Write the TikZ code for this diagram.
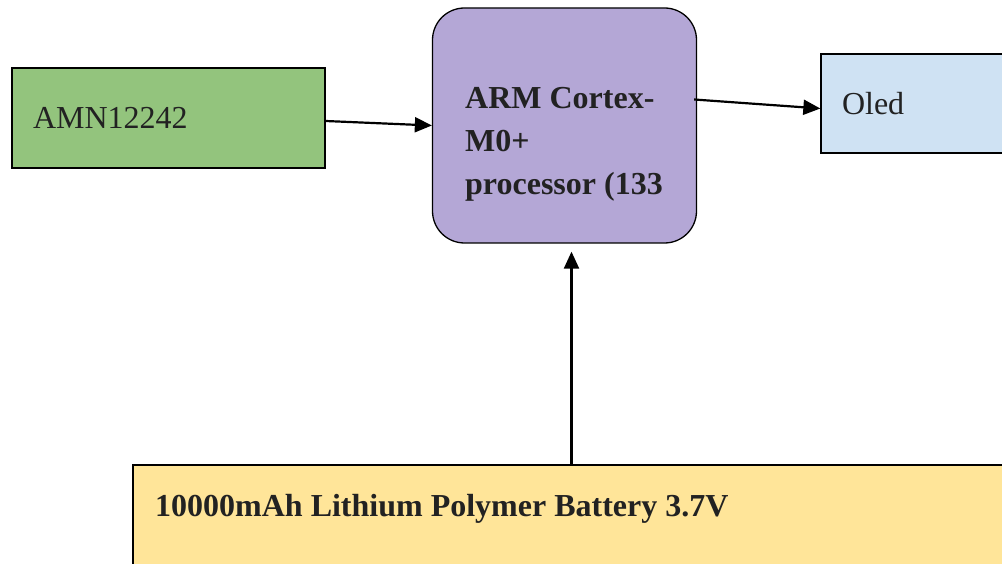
\documentclass[tikz,border=0pt]{standalone}
\usepackage{fontspec}
\setmainfont{Liberation Serif}
\usepackage{tikz}
\usetikzlibrary{arrows.meta,calc}
\usepackage{xcolor}
\definecolor{sensgreen}{RGB}{147,196,125}
\definecolor{cpupurple}{RGB}{180,167,214}
\definecolor{oledblue}{RGB}{207,226,243}
\definecolor{batyellow}{RGB}{255,229,153}
\definecolor{inkgray}{RGB}{34,34,34}

\begin{document}
\begin{tikzpicture}[
  x=1pt, y=-1pt,
  box/.style ={draw=black, line width=1.3pt, inner xsep=21pt, inner ysep=0pt,
               align=left, text=inkgray,
               font=\fontsize{32}{42}\selectfont},
  cpu/.style ={draw=black, line width=1.3pt, rounded corners=32pt,
               fill=cpupurple, minimum width=264, minimum height=235},
  txt/.style ={inner sep=0pt, align=left, text=inkgray,
               font=\fontsize{32}{43}\selectfont\bfseries},
  arr/.style ={-{Triangle[length=17pt,width=15pt]}, line width=2.2pt}
]
  \clip (0,0) rectangle (1002,564);

  %% ── Blocks ──────────────────────────────────────────────────────────────
  \node[box, fill=sensgreen, text width=271, minimum height=100]
    (amn)  at (168.5, 118)   {AMN12242};
  \node[cpu] (arm)  at (564.5, 125.5) {};
  \node[box, fill=oledblue, text width=168, minimum height=99]
    (oled) at (926, 103.5)   {\raisebox{-2pt}{Oled}};
  \node[box, fill=batyellow, minimum width=900, minimum height=100]
    (bat)  at (583, 515)     {};

  %% ── Block texts ─────────────────────────────────────────────────────────
  \node[txt, anchor=north west] (armtxt) at (465, 87)
    {ARM Cortex-\\M0+\\processor (133};
  \node[txt, anchor=base west]  (battxt) at (155, 516)
    {10000mAh Lithium Polymer Battery 3.7V};

  %% ── Connectors ──────────────────────────────────────────────────────────
  \coordinate (armtip) at ($(arm.south)+(7,8)$);
  \draw[arr] ($(amn.east)+(0,3)$)    -- (arm.west);
  \draw[arr] ($(arm.east)+(-3,-26)$) -- ($(oled.west)+(0,5)$);
  \draw[arr] (bat.north -| armtip)   -- (armtip);

\end{tikzpicture}
\end{document}
